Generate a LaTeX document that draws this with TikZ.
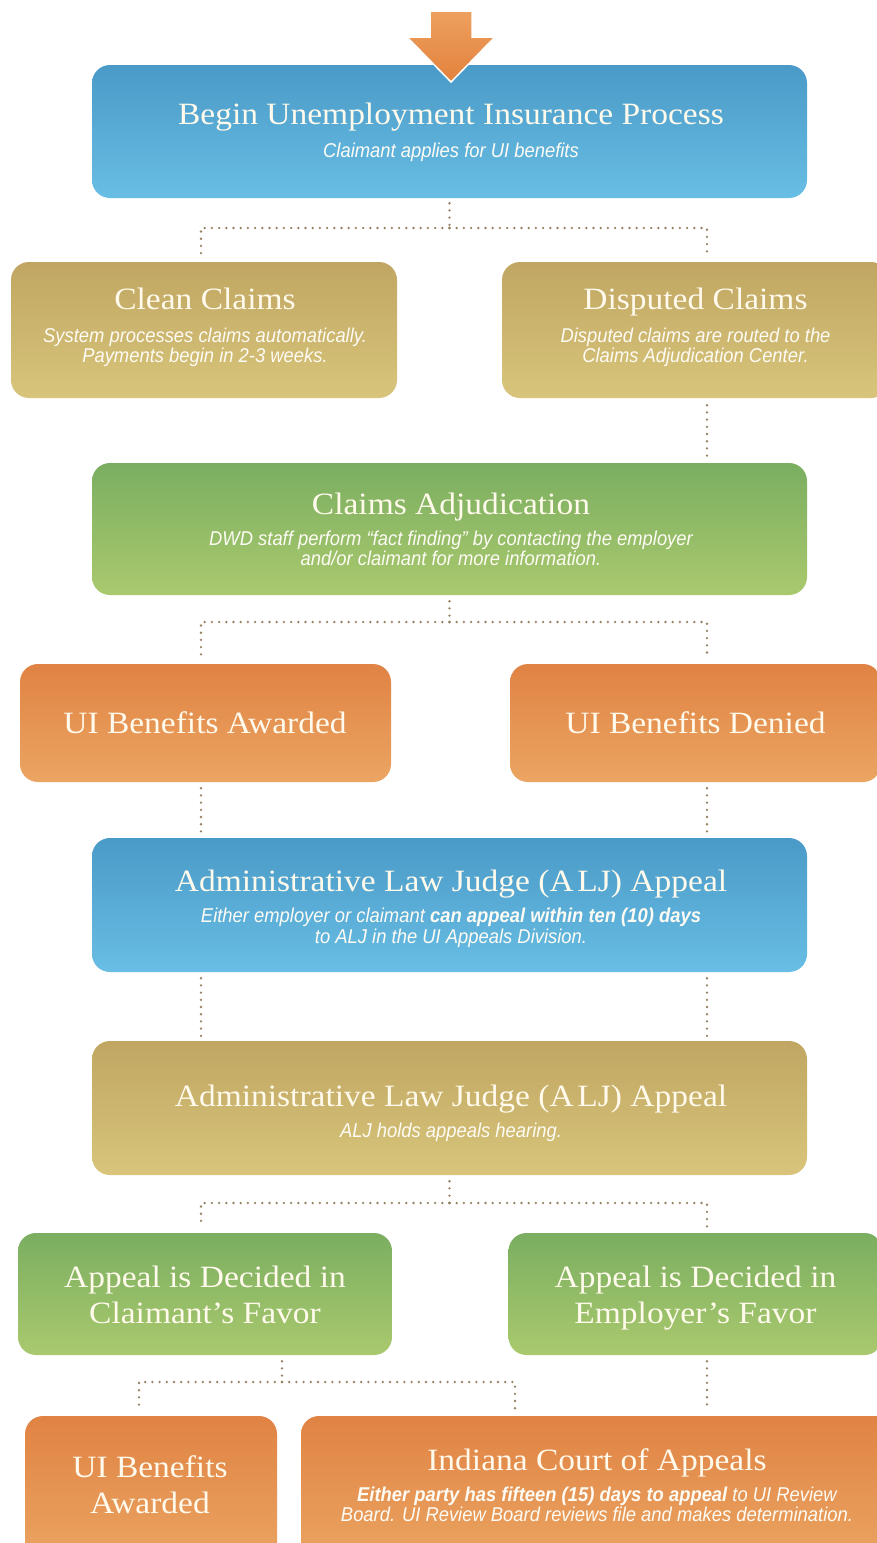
\documentclass[tikz,border=0pt]{standalone}
\usepackage{fontspec}
\newfontfamily\ttlfont[FakeStretch=1.08]{Liberation Serif}
\newfontfamily\subfont[FakeStretch=0.92]{Liberation Sans}
\definecolor{bluT}{RGB}{74,154,199}
\definecolor{bluB}{RGB}{104,190,228}
\definecolor{golT}{RGB}{192,166,98}
\definecolor{golB}{RGB}{216,197,123}
\definecolor{grnT}{RGB}{122,174,96}
\definecolor{grnB}{RGB}{170,201,110}
\definecolor{orgT}{RGB}{224,131,68}
\definecolor{orgB}{RGB}{235,165,98}
\definecolor{arrT}{RGB}{238,160,95}
\definecolor{arrB}{RGB}{226,130,60}
\definecolor{dotc}{RGB}{150,130,98}
\definecolor{ttlc}{RGB}{255,250,236}
\definecolor{sbtc}{RGB}{253,251,244}
\begin{document}
\begin{tikzpicture}[x=1pt,y=-1pt,
  box/.style={rounded corners=18pt, inner sep=0pt, draw=none},
  bluebox/.style={box, top color=bluT, bottom color=bluB},
  goldbox/.style={box, top color=golT, bottom color=golB},
  greenbox/.style={box, top color=grnT, bottom color=grnB},
  orangebox/.style={box, top color=orgT, bottom color=orgB},
  ttl/.style={anchor=base, inner sep=0pt, text=ttlc, font=\ttlfont\fontsize{31}{35}\selectfont},
  sbt/.style={anchor=base, inner sep=0pt, text=sbtc, font=\subfont\itshape\fontsize{20}{22}\selectfont},
  dots/.style={draw=dotc, line width=2.6pt, dash pattern=on 0pt off 7.2pt, line cap=round}]
\useasboundingbox (0,0) rectangle (877,1543);
\fill[white] (0,0) rectangle (877,1543);

% guide coordinates for the connector columns
\coordinate (xL) at (201,0);
\coordinate (xR) at (707,0);

% boxes
\node[bluebox, minimum width=715pt, minimum height=133pt] (b1) at (449.5,131.5) {};
\node[goldbox, minimum width=386pt, minimum height=136pt] (clean) at (204,330) {};
\node[goldbox, minimum width=387pt, minimum height=136pt] (disp) at (695.5,330) {};
\node[greenbox, minimum width=715pt, minimum height=132pt] (adj) at (449.5,529) {};
\node[orangebox, minimum width=371pt, minimum height=118pt] (awd) at (205.5,723) {};
\node[orangebox, minimum width=371pt, minimum height=118pt] (den) at (695.5,723) {};
\node[bluebox, minimum width=715pt, minimum height=134pt] (alj1) at (449.5,905) {};
\node[goldbox, minimum width=715pt, minimum height=134pt] (alj2) at (449.5,1108) {};
\node[greenbox, minimum width=374pt, minimum height=122pt] (clm) at (205,1294) {};
\node[greenbox, minimum width=374pt, minimum height=122pt] (emp) at (695.5,1294) {};
\node[orangebox, minimum width=252pt, minimum height=148pt] (awd2) at (151,1490) {};
\node[orangebox, minimum width=592pt, minimum height=148pt] (court) at (597,1490) {};

% top arrow
\draw[white, line width=1.5pt, top color=arrT, bottom color=arrB, line join=miter]
  (430,11) -- (472,11) -- (472,37) -- (495,37) -- (451,82) -- (407,37) -- (430,37) -- cycle;

% texts
\node[ttl] (t1) at (451,124) {Begin Unemployment Insurance Process};
\node[sbt] (s1) at (451,157) {Claimant applies for UI benefits};

\node[ttl] (t2) at (205,309) {Clean Claims};
\node[sbt] (s2a) at (205,342) {System processes claims automatically.};
\node[sbt] (s2b) at (205,362) {Payments begin in 2-3 weeks.};

\node[ttl] (t3) at (695.5,309) {Disputed Claims};
\node[sbt] (s3a) at (695.5,342) {Disputed claims are routed to the};
\node[sbt] (s3b) at (695.5,362) {Claims Adjudication Center.};

\node[ttl] (t4) at (451,514) {Claims Adjudication};
\node[sbt] (s4a) at (451,545) {DWD staff perform “fact finding” by contacting the employer};
\node[sbt] (s4b) at (451,565) {and/or claimant for more information.};

\node[ttl] (t5) at (205,733) {UI Benefits Awarded};
\node[ttl] (t6) at (695.5,733) {UI Benefits Denied};

\node[ttl] (t7) at (451,891) {Administrative Law Judge (A\hspace{0.12em}LJ) Appeal};
\node[sbt] (s7a) at (451,922) {Either employer or claimant \textbf{can appeal within ten (10) days}};
\node[sbt] (s7b) at (451,943) {to ALJ in the UI Appeals Division.};

\node[ttl] (t8) at (451,1106) {Administrative Law Judge (A\hspace{0.12em}LJ) Appeal};
\node[sbt] (s8) at (451,1137) {ALJ holds appeals hearing.};

\node[ttl] (t9a) at (205,1287) {Appeal is Decided in};
\node[ttl] (t9b) at (205,1323) {Claimant’s Favor};
\node[ttl] (t10a) at (695.5,1287) {Appeal is Decided in};
\node[ttl] (t10b) at (695.5,1323) {Employer’s Favor};

\node[ttl] (t11a) at (150,1477) {UI Benefits};
\node[ttl] (t11b) at (150,1513) {Awarded};

\node[ttl] (t12) at (597,1470) {Indiana Court of Appeals};
\node[sbt] (s12a) at (597,1501) {\textbf{Either party has fifteen (15) days to appeal} to UI Review};
\node[sbt] (s12b) at (597,1521) {Board. UI Review Board reviews file and makes determination.};

% connectors
\coordinate (j1) at (449.5,228);
\draw[dots] ([yshift=-5pt]b1.south) -- (j1);
\draw[dots] (j1) -| ([yshift=5pt]clean.north -| xL);
\draw[dots] (j1) -| ([yshift=5pt]disp.north -| xR);

\draw[dots] ([yshift=-7pt]disp.south -| xR) -- ([yshift=5pt]adj.north -| xR);

\coordinate (j2) at (449.5,622);
\draw[dots] ([yshift=-6pt]adj.south) -- (j2);
\draw[dots] (j2) -| ([yshift=5pt]awd.north -| xL);
\draw[dots] (j2) -| ([yshift=5pt]den.north -| xR);

\draw[dots] ([yshift=-6pt]awd.south -| xL) -- ([yshift=5pt]alj1.north -| xL);
\draw[dots] ([yshift=-6pt]den.south -| xR) -- ([yshift=5pt]alj1.north -| xR);

\draw[dots] ([yshift=-6pt]alj1.south -| xL) -- ([yshift=5pt]alj2.north -| xL);
\draw[dots] ([yshift=-6pt]alj1.south -| xR) -- ([yshift=5pt]alj2.north -| xR);

\coordinate (j3) at (449.5,1203);
\draw[dots] ([yshift=-6pt]alj2.south) -- (j3);
\draw[dots] (j3) -| ([yshift=5pt]clm.north -| xL);
\draw[dots] (j3) -| ([yshift=5pt]emp.north -| xR);

\coordinate (j4) at (282,1382);
\coordinate (xA) at (139,0);
\coordinate (xC) at (515,0);
\draw[dots] ([yshift=-6pt]clm.south -| j4) -- (j4);
\draw[dots] (j4) -| ([yshift=5pt]awd2.north -| xA);
\draw[dots] (j4) -| ([yshift=5pt]court.north -| xC);

\draw[dots] ([yshift=-6pt]emp.south -| xR) -- ([yshift=5pt]court.north -| xR);
\end{tikzpicture}
\end{document}
